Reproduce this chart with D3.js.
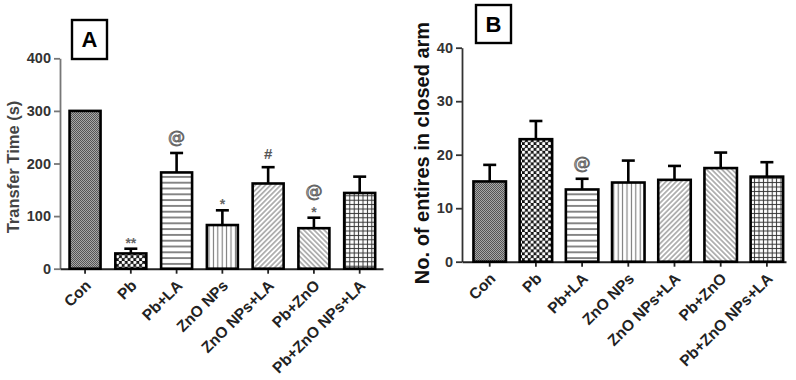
<!DOCTYPE html>
<html>
<head>
<meta charset="utf-8">
<script src="https://cdn.jsdelivr.net/npm/d3@7"></script>
<style>
html,body{margin:0;padding:0;background:#fff;}
svg{display:block;font-family:"Liberation Sans",Arial,sans-serif;}
</style>
</head>
<body>
<svg id="chart" width="796" height="380"></svg>
<script>
// ---- data ----
const categories = ["Con","Pb","Pb+LA","ZnO NPs","ZnO NPs+LA","Pb+ZnO","Pb+ZnO NPs+LA"];
const patternIds = ["pCon","pPb","pPbLA","pZnO","pZnOLA","pPbZnO","pPbZnOLA"];

const transferMean = [300, 29, 183, 83, 162, 77, 144];
const transferErr  = [0, 9, 37, 28, 31, 20, 31];
const transferSig  = [[], ["**"], ["@"], ["*"], ["#"], ["*","@"], []];
const transferTicks = [0,100,200,300,400];

const entriesMean = [15, 22.9, 13.5, 14.8, 15.3, 17.5, 15.9];
const entriesErr  = [3.1, 3.4, 2.0, 4.1, 2.6, 2.9, 2.7];
const entriesSig  = [[], [], ["@"], [], [], [], []];
const entriesTicks = [0,10,20,30,40];

const titleA = "Transfer Time (s)";
const titleB = "No. of entires in closed arm";

const svg = d3.select("#chart");
const defs = svg.append("defs");

// ---- patterns ----
function pat(id, w, h) {
  return defs.append("pattern").attr("id", id).attr("patternUnits","userSpaceOnUse")
    .attr("width", w).attr("height", h);
}
{ const p = pat("pCon", 2, 2);
  p.append("rect").attr("width",2).attr("height",2).attr("fill","#a8a8a8");
  p.append("rect").attr("width",1).attr("height",1).attr("fill","#555");
  p.append("rect").attr("x",1).attr("y",1).attr("width",1).attr("height",1).attr("fill","#555"); }
{ const p = pat("pPb", 5.8, 5.8);
  p.append("rect").attr("width",5.8).attr("height",5.8).attr("fill","#111");
  p.append("circle").attr("cx",1.45).attr("cy",1.45).attr("r",1.7).attr("fill","#fff");
  p.append("circle").attr("cx",4.35).attr("cy",4.35).attr("r",1.7).attr("fill","#fff"); }
{ const p = pat("pPbLA", 6, 5.8);
  p.append("rect").attr("width",6).attr("height",5.8).attr("fill","#fff");
  p.append("line").attr("x1",0).attr("x2",6).attr("y1",2.9).attr("y2",2.9).attr("stroke","#555").attr("stroke-width",1.4); }
{ const p = pat("pZnO", 4.4, 6);
  p.append("rect").attr("width",4.4).attr("height",6).attr("fill","#fff");
  p.append("line").attr("x1",2.2).attr("x2",2.2).attr("y1",0).attr("y2",6).attr("stroke","#777").attr("stroke-width",1.1); }
{ const p = pat("pZnOLA", 3.6, 3.6).attr("patternTransform","rotate(45)");
  p.append("rect").attr("width",3.6).attr("height",3.6).attr("fill","#fff");
  p.append("line").attr("x1",1.8).attr("x2",1.8).attr("y1",0).attr("y2",3.6).attr("stroke","#888").attr("stroke-width",1.2); }
{ const p = pat("pPbZnO", 3.6, 3.6).attr("patternTransform","rotate(-45)");
  p.append("rect").attr("width",3.6).attr("height",3.6).attr("fill","#fff");
  p.append("line").attr("x1",1.8).attr("x2",1.8).attr("y1",0).attr("y2",3.6).attr("stroke","#888").attr("stroke-width",1.2); }
{ const p = pat("pPbZnOLA", 4.4, 4.4);
  p.append("rect").attr("width",4.4).attr("height",4.4).attr("fill","#fff");
  p.append("line").attr("x1",0).attr("x2",4.4).attr("y1",2.2).attr("y2",2.2).attr("stroke","#333").attr("stroke-width",1);
  p.append("line").attr("x1",2.2).attr("x2",2.2).attr("y1",0).attr("y2",4.4).attr("stroke","#333").attr("stroke-width",1); }

// ---- panel drawer ----
function panel(cfg) {
  const g = svg.append("g");
  const x = d3.scaleBand().domain(categories).range(cfg.xRange)
    .paddingInner(cfg.pi).paddingOuter(cfg.po).align(cfg.align);
  const y = d3.scaleLinear().domain([0, cfg.max]).range(cfg.yRange);
  const cx = d => x(d) + x.bandwidth()/2;

  // y axis
  const ya = g.append("g").attr("transform", `translate(${cfg.xRange[0]},0)`)
    .call(d3.axisLeft(y).tickValues(cfg.ticks).tickSize(6).tickPadding(3).tickSizeOuter(0));
  ya.attr("font-family", null).attr("font-size", null);
  ya.select(".domain").attr("stroke", cfg.axisColor).attr("stroke-width", 1.8);
  ya.selectAll(".tick line").attr("stroke", cfg.axisColor).attr("stroke-width", 1.8);
  ya.selectAll(".tick text").attr("font-size", 14.5).attr("font-weight","bold")
    .attr("fill","#333").attr("font-family","Liberation Sans, Arial, sans-serif");

  // x axis
  const xa = g.append("g").attr("transform", `translate(0,${cfg.yRange[0]})`)
    .call(d3.axisBottom(x).tickSize(5).tickSizeOuter(0));
  xa.attr("font-family", null).attr("font-size", null);
  xa.select(".domain").attr("stroke", "#222").attr("stroke-width", 2);
  xa.selectAll(".tick line").attr("stroke","#222").attr("stroke-width",1.8);
  xa.selectAll(".tick text").attr("font-size", 15.5).attr("font-weight","bold")
    .attr("fill","#222").attr("font-family","Liberation Sans, Arial, sans-serif")
    .attr("text-anchor","end").attr("x", 0).attr("y", 0).attr("dy", "0.35em")
    .attr("transform","translate(3,14) rotate(-45)");

  // bars
  g.selectAll("rect.bar").data(categories).join("rect").attr("class","bar")
    .attr("x", d => x(d)).attr("width", x.bandwidth())
    .attr("y", (d,i) => y(cfg.mean[i])).attr("height", (d,i) => y(0) - y(cfg.mean[i]))
    .attr("fill", (d,i) => `url(#${patternIds[i]})`)
    .attr("stroke","#000").attr("stroke-width",2.6);

  // error bars (upper only)
  const withErr = categories.filter((d,i) => cfg.err[i] > 0);
  const top = d => { const i = categories.indexOf(d); return y(cfg.mean[i] + cfg.err[i]); };
  const base = d => y(cfg.mean[categories.indexOf(d)]);
  g.selectAll("line.stem").data(withErr).join("line").attr("class","stem")
    .attr("x1", cx).attr("x2", cx).attr("y1", base).attr("y2", top)
    .attr("stroke","#000").attr("stroke-width",2.6);
  g.selectAll("line.cap").data(withErr).join("line").attr("class","cap")
    .attr("x1", d => cx(d) - 6.5).attr("x2", d => cx(d) + 6.5).attr("y1", top).attr("y2", top)
    .attr("stroke","#000").attr("stroke-width",2.6);

  // significance marks (stacked upward from error-bar top)
  categories.forEach((c, i) => {
    let yy = y(cfg.mean[i] + cfg.err[i]);
    cfg.sig[i].forEach((s) => {
      let t;
      if (s.indexOf("*") >= 0) {
        t = g.append("text").attr("y", yy - 1).attr("font-size", 14).attr("font-weight","bold").attr("fill","#666").text(s);
        yy -= 11;
      } else if (s === "#") {
        t = g.append("text").attr("y", yy - 8).attr("font-size", 15).attr("font-weight","bold").attr("fill","#555").text(s);
        yy -= 20;
      } else {
        t = g.append("text").attr("y", yy - 10).attr("font-size", 17)
          .attr("font-family","DejaVu Serif, serif").attr("fill","#fff")
          .attr("stroke","#666").attr("stroke-width",1).text(s);
        yy -= 20;
      }
      t.attr("x", cx(c)).attr("text-anchor","middle");
    });
  });

  // y title
  g.append("text").attr("transform", `translate(${cfg.titleX},${cfg.titleY}) rotate(-90)`)
    .attr("text-anchor","middle").attr("dominant-baseline","central")
    .attr("font-size", cfg.titleSize).attr("font-weight","bold").attr("fill", cfg.titleColor)
    .text(cfg.title);

  // panel letter box
  g.append("rect").attr("x", cfg.box[0]).attr("y", cfg.box[1]).attr("width", cfg.box[2]).attr("height", cfg.box[3])
    .attr("fill","#fff").attr("stroke","#000").attr("stroke-width",2.4);
  g.append("text").attr("x", cfg.box[0] + cfg.box[2]/2).attr("y", cfg.box[1] + cfg.box[3]/2)
    .attr("text-anchor","middle").attr("dominant-baseline","central")
    .attr("font-size", 22).attr("font-weight","bold").attr("fill","#000").text(cfg.letter);
}

panel({
  xRange:[60,383], pi:0.323, po:0.19, align:0.55,
  yRange:[268.7,58.3], max:400, ticks:transferTicks,
  mean:transferMean, err:transferErr, sig:transferSig,
  axisColor:"#777", title:titleA, titleX:13, titleY:167, titleSize:16.5, titleColor:"#444",
  box:[72,20,35,39], letter:"A"
});
panel({
  xRange:[462,786], pi:0.2965, po:0.155, align:0.8,
  yRange:[261.7,47.7], max:40, ticks:entriesTicks,
  mean:entriesMean, err:entriesErr, sig:entriesSig,
  axisColor:"#333", title:titleB, titleX:422, titleY:153, titleSize:20, titleColor:"#111",
  box:[476,5,35,38], letter:"B"
});
</script>
</body>
</html>
